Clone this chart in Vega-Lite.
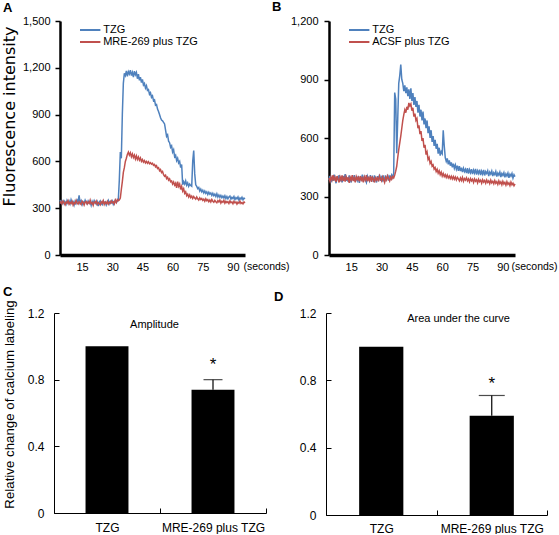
{
"$schema":"https://vega.github.io/schema/vega-lite/v6.json",
"background":"white",
"padding":{"left":0,"top":1,"right":0,"bottom":0},
"config":{
 "font":"Liberation Sans",
 "view":{"stroke":null},
 "axis":{"grid":false,"domainColor":"#000","tickColor":"#000","labelColor":"#000","titleColor":"#000","labelFont":"Liberation Sans","titleFont":"Liberation Sans","titleFontWeight":"normal","labelOverlap":false,"labelFlush":false},
 "title":{"font":"Liberation Sans","fontSize":13,"fontWeight":"bold","anchor":"start","color":"#000","baseline":"alphabetic","frame":"group"},
 "legend":{"title":null,"symbolType":"M-1.7,0H1.7","symbolSize":144,"symbolStrokeWidth":2,"labelFont":"Liberation Sans","labelFontSize":11,"labelColor":"#000","labelOffset":6,"rowPadding":0,"padding":0}
},
"resolve":{"scale":{"color":"independent"},"legend":{"color":"independent"}},
"datasets":{
"ta":[
{"t":4,"a":352,"b":330},{"t":4.5,"a":335,"b":342},{"t":5,"a":344,"b":328},{"t":5.5,"a":330,"b":345},{"t":6,"a":348,"b":335},{"t":6.5,"a":338,"b":322},{"t":7,"a":325,"b":340},{"t":7.5,"a":350,"b":333},{"t":8,"a":333,"b":348},{"t":8.5,"a":346,"b":326},{"t":9,"a":328,"b":338},{"t":9.5,"a":355,"b":330},{"t":10,"a":336,"b":344},{"t":10.5,"a":342,"b":321},{"t":11,"a":320,"b":336},{"t":11.5,"a":345,"b":329},{"t":12,"a":331,"b":350},{"t":12.5,"a":352,"b":334},{"t":13,"a":339,"b":326},{"t":13.5,"a":382,"b":341},{"t":14,"a":334,"b":332},{"t":14.5,"a":348,"b":324},{"t":15,"a":322,"b":345},{"t":15.5,"a":340,"b":337},{"t":16,"a":330,"b":320},{"t":16.5,"a":351,"b":338},{"t":17,"a":336,"b":343},{"t":17.5,"a":327,"b":327},{"t":18,"a":346,"b":340},{"t":18.5,"a":333,"b":331},{"t":19,"a":341,"b":352},{"t":19.5,"a":318,"b":329},{"t":20,"a":344,"b":336},{"t":20.5,"a":329,"b":318},{"t":21,"a":349,"b":339},{"t":21.5,"a":335,"b":334},{"t":22,"a":326,"b":346},{"t":22.5,"a":342,"b":325},{"t":23,"a":313,"b":337},{"t":23.5,"a":338,"b":330},{"t":24,"a":347,"b":321},{"t":24.5,"a":331,"b":341},{"t":25,"a":323,"b":333},{"t":25.5,"a":345,"b":349},{"t":26,"a":332,"b":324},{"t":26.5,"a":340,"b":338},{"t":27,"a":320,"b":330},{"t":27.5,"a":337,"b":343},{"t":28,"a":350,"b":326},{"t":28.5,"a":328,"b":339},{"t":29,"a":343,"b":331},{"t":29.5,"a":334,"b":347},{"t":30,"a":346,"b":335},{"t":30.5,"a":325,"b":341},{"t":31,"a":339,"b":328},{"t":31.5,"a":351,"b":352},{"t":32,"a":336,"b":337},{"t":32.5,"a":344,"b":356},{"t":33,"a":355,"b":348},
{"t":33.5,"a":480,"b":352},{"t":34,"a":660,"b":365},{"t":34.5,"a":620,"b":420},{"t":35,"a":900,"b":470},{"t":35.5,"a":1100,"b":530},{"t":36,"a":1165,"b":560},{"t":36.5,"a":1150,"b":600},{"t":37,"a":1180,"b":620},{"t":37.5,"a":1145,"b":645},{"t":38,"a":1175,"b":660},{"t":38.5,"a":1160,"b":640},{"t":39,"a":1185,"b":655},{"t":39.5,"a":1150,"b":630},{"t":40,"a":1170,"b":648},{"t":40.5,"a":1140,"b":625},{"t":41,"a":1178,"b":640},{"t":41.5,"a":1155,"b":615},{"t":42,"a":1170,"b":635},{"t":42.5,"a":1130,"b":612},{"t":43,"a":1160,"b":628},{"t":43.5,"a":1120,"b":608},{"t":44,"a":1140,"b":622},{"t":44.5,"a":1105,"b":600},{"t":45,"a":1125,"b":612},{"t":45.5,"a":1090,"b":595},{"t":46,"a":1100,"b":605},{"t":46.5,"a":1070,"b":590},{"t":47,"a":1085,"b":600},{"t":47.5,"a":1055,"b":588},{"t":48,"a":1060,"b":598},{"t":48.5,"a":1030,"b":585},{"t":49,"a":1040,"b":592},{"t":49.5,"a":1010,"b":582},{"t":50,"a":1020,"b":588},{"t":50.5,"a":990,"b":575},{"t":51,"a":995,"b":580},{"t":51.5,"a":960,"b":565},{"t":52,"a":965,"b":572},{"t":52.5,"a":935,"b":555},{"t":53,"a":920,"b":560},{"t":53.5,"a":900,"b":540},{"t":54,"a":880,"b":548},{"t":54.5,"a":865,"b":528},{"t":55,"a":860,"b":535},{"t":55.5,"a":850,"b":515},{"t":56,"a":840,"b":505},{"t":56.5,"a":800,"b":512},{"t":57,"a":760,"b":490},{"t":57.5,"a":770,"b":498},{"t":58,"a":730,"b":480},{"t":58.5,"a":720,"b":488},{"t":59,"a":690,"b":470},{"t":59.5,"a":700,"b":475},{"t":60,"a":660,"b":455},{"t":60.5,"a":675,"b":468},{"t":61,"a":630,"b":448},{"t":61.5,"a":640,"b":460},{"t":62,"a":605,"b":430},{"t":62.5,"a":620,"b":470},{"t":63,"a":590,"b":440},{"t":63.5,"a":600,"b":455},{"t":64,"a":560,"b":420},{"t":64.5,"a":580,"b":440},{"t":65,"a":450,"b":410},{"t":65.5,"a":470,"b":425},{"t":66,"a":455,"b":395},{"t":66.5,"a":475,"b":405},{"t":67,"a":448,"b":380},{"t":67.5,"a":462,"b":390},{"t":68,"a":440,"b":372},{"t":68.5,"a":455,"b":385},{"t":69,"a":445,"b":368},{"t":69.5,"a":440,"b":378},{"t":70,"a":600,"b":362},{"t":70.5,"a":670,"b":375},{"t":71,"a":520,"b":365},{"t":71.5,"a":450,"b":358},{"t":72,"a":440,"b":372},{"t":72.5,"a":425,"b":360},{"t":73,"a":432,"b":352},{"t":73.5,"a":410,"b":366},{"t":74,"a":422,"b":355},{"t":74.5,"a":405,"b":362},{"t":75,"a":415,"b":350},{"t":75.5,"a":398,"b":358},{"t":76,"a":410,"b":345},{"t":76.5,"a":395,"b":360},{"t":77,"a":405,"b":348},{"t":77.5,"a":388,"b":355},{"t":78,"a":402,"b":342},{"t":78.5,"a":390,"b":352},{"t":79,"a":398,"b":340},{"t":79.5,"a":382,"b":356},{"t":80,"a":395,"b":345},{"t":80.5,"a":380,"b":338},{"t":81,"a":390,"b":350},{"t":81.5,"a":375,"b":342},{"t":82,"a":392,"b":335},{"t":82.5,"a":372,"b":348},{"t":83,"a":385,"b":340},{"t":83.5,"a":370,"b":352},{"t":84,"a":382,"b":333},{"t":84.5,"a":368,"b":345},{"t":85,"a":378,"b":338},{"t":85.5,"a":365,"b":350},{"t":86,"a":380,"b":332},{"t":86.5,"a":362,"b":344},{"t":87,"a":375,"b":336},{"t":87.5,"a":360,"b":342},{"t":88,"a":372,"b":330},{"t":88.5,"a":378,"b":346},{"t":89,"a":358,"b":335},{"t":89.5,"a":370,"b":340},{"t":90,"a":362,"b":328},{"t":90.5,"a":375,"b":344},{"t":91,"a":355,"b":334},{"t":91.5,"a":368,"b":340},{"t":92,"a":360,"b":326},{"t":92.5,"a":372,"b":338},{"t":93,"a":352,"b":332},{"t":93.5,"a":366,"b":345},{"t":94,"a":358,"b":330},{"t":94.5,"a":370,"b":336},{"t":95,"a":354,"b":328},{"t":95.5,"a":365,"b":340},{"t":96,"a":360,"b":334}
],
"tb":[
{"t":4,"a":385,"b":395},{"t":4.5,"a":405,"b":378},{"t":5,"a":372,"b":400},{"t":5.5,"a":398,"b":385},{"t":6,"a":380,"b":410},{"t":6.5,"a":412,"b":382},{"t":7,"a":390,"b":398},{"t":7.5,"a":368,"b":375},{"t":8,"a":402,"b":405},{"t":8.5,"a":385,"b":388},{"t":9,"a":410,"b":372},{"t":9.5,"a":378,"b":400},{"t":10,"a":395,"b":385},{"t":10.5,"a":372,"b":408},{"t":11,"a":405,"b":380},{"t":11.5,"a":388,"b":396},{"t":12,"a":415,"b":376},{"t":12.5,"a":380,"b":402},{"t":13,"a":398,"b":388},{"t":13.5,"a":375,"b":395},{"t":14,"a":408,"b":370},{"t":14.5,"a":390,"b":398},{"t":15,"a":372,"b":385},{"t":15.5,"a":402,"b":410},{"t":16,"a":385,"b":380},{"t":16.5,"a":410,"b":395},{"t":17,"a":378,"b":372},{"t":17.5,"a":396,"b":402},{"t":18,"a":382,"b":388},{"t":18.5,"a":405,"b":398},{"t":19,"a":370,"b":378},{"t":19.5,"a":395,"b":405},{"t":20,"a":388,"b":384},{"t":20.5,"a":412,"b":395},{"t":21,"a":376,"b":372},{"t":21.5,"a":400,"b":400},{"t":22,"a":385,"b":386},{"t":22.5,"a":372,"b":410},{"t":23,"a":405,"b":378},{"t":23.5,"a":392,"b":395},{"t":24,"a":380,"b":382},{"t":24.5,"a":410,"b":405},{"t":25,"a":386,"b":375},{"t":25.5,"a":398,"b":398},{"t":26,"a":375,"b":388},{"t":26.5,"a":408,"b":372},{"t":27,"a":390,"b":402},{"t":27.5,"a":372,"b":385},{"t":28,"a":404,"b":395},{"t":28.5,"a":388,"b":378},{"t":29,"a":412,"b":405},{"t":29.5,"a":380,"b":390},{"t":30,"a":398,"b":380},{"t":30.5,"a":384,"b":400},{"t":31,"a":408,"b":386},{"t":31.5,"a":375,"b":372},{"t":32,"a":400,"b":398},{"t":32.5,"a":390,"b":385},{"t":33,"a":412,"b":405},{"t":33.5,"a":382,"b":392},{"t":34,"a":402,"b":380},{"t":34.5,"a":392,"b":400},{"t":35,"a":410,"b":388},{"t":35.5,"a":398,"b":402},{"t":36,"a":420,"b":395},
{"t":36.5,"a":833,"b":410},{"t":37,"a":800,"b":430},{"t":37.5,"a":522,"b":455},{"t":38,"a":700,"b":500},{"t":38.5,"a":880,"b":540},{"t":39,"a":920,"b":575},{"t":39.5,"a":977,"b":610},{"t":40,"a":900,"b":650},{"t":40.5,"a":880,"b":690},{"t":41,"a":840,"b":720},{"t":41.5,"a":870,"b":745},{"t":42,"a":830,"b":730},{"t":42.5,"a":860,"b":760},{"t":43,"a":815,"b":745},{"t":43.5,"a":850,"b":780},{"t":44,"a":800,"b":765},{"t":44.5,"a":855,"b":775},{"t":45,"a":790,"b":740},{"t":45.5,"a":830,"b":755},{"t":46,"a":770,"b":710},{"t":46.5,"a":810,"b":725},{"t":47,"a":760,"b":690},{"t":47.5,"a":790,"b":700},{"t":48,"a":730,"b":650},{"t":48.5,"a":770,"b":665},{"t":49,"a":710,"b":620},{"t":49.5,"a":745,"b":635},{"t":50,"a":690,"b":585},{"t":50.5,"a":735,"b":600},{"t":51,"a":670,"b":550},{"t":51.5,"a":700,"b":565},{"t":52,"a":650,"b":515},{"t":52.5,"a":690,"b":528},{"t":53,"a":625,"b":490},{"t":53.5,"a":660,"b":500},{"t":54,"a":600,"b":470},{"t":54.5,"a":640,"b":480},{"t":55,"a":580,"b":455},{"t":55.5,"a":610,"b":462},{"t":56,"a":560,"b":440},{"t":56.5,"a":590,"b":448},{"t":57,"a":545,"b":428},{"t":57.5,"a":570,"b":440},{"t":58,"a":520,"b":420},{"t":58.5,"a":550,"b":432},{"t":59,"a":510,"b":412},{"t":59.5,"a":530,"b":425},{"t":60,"a":520,"b":405},{"t":60.5,"a":640,"b":418},{"t":61,"a":560,"b":402},{"t":61.5,"a":500,"b":412},{"t":62,"a":480,"b":398},{"t":62.5,"a":495,"b":410},{"t":63,"a":465,"b":395},{"t":63.5,"a":485,"b":405},{"t":64,"a":458,"b":392},{"t":64.5,"a":475,"b":404},{"t":65,"a":450,"b":390},{"t":65.5,"a":468,"b":402},{"t":66,"a":445,"b":388},{"t":66.5,"a":462,"b":400},{"t":67,"a":440,"b":385},{"t":67.5,"a":458,"b":398},{"t":68,"a":432,"b":390},{"t":68.5,"a":455,"b":380},{"t":69,"a":430,"b":395},{"t":69.5,"a":448,"b":382},{"t":70,"a":425,"b":398},{"t":70.5,"a":445,"b":378},{"t":71,"a":428,"b":392},{"t":71.5,"a":440,"b":384},{"t":72,"a":420,"b":396},{"t":72.5,"a":445,"b":380},{"t":73,"a":418,"b":390},{"t":73.5,"a":438,"b":375},{"t":74,"a":422,"b":392},{"t":74.5,"a":440,"b":380},{"t":75,"a":415,"b":388},{"t":75.5,"a":435,"b":372},{"t":76,"a":420,"b":390},{"t":76.5,"a":442,"b":378},{"t":77,"a":412,"b":386},{"t":77.5,"a":432,"b":370},{"t":78,"a":418,"b":388},{"t":78.5,"a":438,"b":376},{"t":79,"a":410,"b":384},{"t":79.5,"a":430,"b":368},{"t":80,"a":415,"b":386},{"t":80.5,"a":436,"b":374},{"t":81,"a":408,"b":382},{"t":81.5,"a":428,"b":368},{"t":82,"a":418,"b":385},{"t":82.5,"a":432,"b":372},{"t":83,"a":405,"b":380},{"t":83.5,"a":425,"b":366},{"t":84,"a":415,"b":384},{"t":84.5,"a":430,"b":370},{"t":85,"a":405,"b":378},{"t":85.5,"a":422,"b":365},{"t":86,"a":412,"b":382},{"t":86.5,"a":428,"b":368},{"t":87,"a":402,"b":376},{"t":87.5,"a":420,"b":362},{"t":88,"a":410,"b":380},{"t":88.5,"a":425,"b":366},{"t":89,"a":400,"b":375},{"t":89.5,"a":418,"b":360},{"t":90,"a":408,"b":378},{"t":90.5,"a":422,"b":364},{"t":91,"a":398,"b":372},{"t":91.5,"a":416,"b":358},{"t":92,"a":405,"b":376},{"t":92.5,"a":420,"b":362},{"t":93,"a":396,"b":370},{"t":93.5,"a":414,"b":356},{"t":94,"a":404,"b":374},{"t":94.5,"a":418,"b":360},{"t":95,"a":395,"b":368},{"t":95.5,"a":412,"b":355},{"t":96,"a":402,"b":365}
],
"bc":[{"g":"TZG","v":1.0},{"g":"MRE-269 plus TZG","v":0.74,"hi":0.80,"star":0.86}],
"bd":[{"g":"TZG","v":1.0},{"g":"MRE-269 plus TZG","v":0.59,"hi":0.71,"star":0.75}]
},
"spacing":13,
"vconcat":[
{"spacing":-18,
 "resolve":{"scale":{"color":"independent"},"legend":{"color":"independent"}},
 "hconcat":[
 {"title":{"text":"A","dx":-51,"offset":0},
  "width":191,"height":234,
  "data":{"name":"ta"},
  "transform":[{"fold":["a","b"],"as":["s","v"]}],
  "mark":{"type":"line","strokeWidth":1.5},
  "encoding":{
   "x":{"field":"t","type":"quantitative","scale":{"domain":[4,96],"range":[6,191],"nice":false,"zero":false},
    "axis":{"values":[15,30,45,60,75,90],"ticks":false,"domainWidth":3.5,"labelPadding":6,"labelFontSize":11,"title":"(seconds)","titleFontSize":10.5,"titleX":189,"titleY":6,"titleAlign":"left","titleBaseline":"top"}},
   "y":{"field":"v","type":"quantitative","scale":{"domain":[0,1500],"nice":false},
    "axis":{"offset":-6,"values":[0,300,600,900,1200,1500],"format":",d","domainWidth":2.5,"tickSize":5,"tickWidth":1.5,"labelPadding":5,"labelFontSize":11,"title":"Fluorescence intensity","titleFont":"DejaVu Sans","titleFontSize":16,"titleX":-51,"titleY":95,"titleBaseline":"middle","titleAlign":"center","titleAngle":-90}},
   "color":{"field":"s","type":"nominal","scale":{"domain":["a","b"],"range":["#4F81BD","#C0504D"]},
    "legend":{"orient":"none","legendX":29.2,"legendY":2,"labelExpr":"datum.label == 'a' ? 'TZG' : 'MRE-269 plus TZG'"}}
  }},
 {"title":{"text":"B","dx":-57,"offset":1},
  "width":186,"height":234,
  "data":{"name":"tb"},
  "transform":[{"fold":["a","b"],"as":["s","v"]}],
  "mark":{"type":"line","strokeWidth":1.5},
  "encoding":{
   "x":{"field":"t","type":"quantitative","scale":{"domain":[4,96],"nice":false,"zero":false},
    "axis":{"values":[15,30,45,60,75,90],"ticks":false,"domainWidth":3.5,"labelPadding":6,"labelFontSize":11,"title":"(seconds)","titleFontSize":10.5,"titleX":182,"titleY":6,"titleAlign":"left","titleBaseline":"top"}},
   "y":{"field":"v","type":"quantitative","scale":{"domain":[0,1200],"nice":false},
    "axis":{"values":[0,300,600,900,1200],"format":",d","domainWidth":2.5,"tickSize":5,"tickWidth":1.5,"labelPadding":6,"labelFontSize":11,"title":null}},
   "color":{"field":"s","type":"nominal","scale":{"domain":["a","b"],"range":["#4F81BD","#C0504D"]},
    "legend":{"orient":"none","legendX":23.2,"legendY":2,"labelExpr":"datum.label == 'a' ? 'TZG' : 'ACSF plus TZG'"}}
  }}
]},
{"spacing":7,"hconcat":[
 {"title":{"text":"C","dx":-51,"offset":1},
  "width":212,"height":200,
  "data":{"name":"bc"},
  "layer":[
   {"mark":{"type":"bar","color":"#000","width":{"band":0.405}},
    "encoding":{
     "x":{"field":"g","type":"nominal","sort":null,"scale":{"paddingInner":0,"paddingOuter":0},
      "axis":{"title":null,"labelAngle":0,"labelFont":"Liberation Sans Narrow, Liberation Sans","labelFontSize":12,"tickBand":"extent","tickSize":-5,"labelPadding":14,"domainWidth":1,"tickWidth":1}},
     "y":{"field":"v","type":"quantitative","scale":{"domain":[0,1.2],"nice":false},
      "axis":{"values":[0,0.4,0.8,1.2],"format":"~g","tickSize":-5,"labelPadding":15,"labelFont":"Liberation Sans Narrow, Liberation Sans","labelFontSize":12,"domainWidth":1,"tickWidth":1,"title":"Relative change of calcium labeling","titleFontSize":13.3,"titleX":-45,"titleY":91,"titleBaseline":"middle","titleAlign":"center","titleAngle":-90}}}},
   {"mark":{"type":"rule","color":"#000","strokeWidth":1.2},
    "encoding":{"x":{"field":"g","type":"nominal","sort":null,"axis":null},"y":{"field":"hi","type":"quantitative"},"y2":{"field":"v"}}},
   {"mark":{"type":"tick","color":"#000","thickness":1.2,"size":19},
    "encoding":{"x":{"field":"g","type":"nominal","sort":null,"axis":null},"y":{"field":"hi","type":"quantitative"}}},
   {"mark":{"type":"text","text":"*","fontSize":17,"baseline":"alphabetic"},
    "encoding":{"x":{"field":"g","type":"nominal","sort":null,"axis":{"orient":"top","title":"Amplitude","labels":false,"ticks":false,"domain":false,"titleFontSize":11,"titleX":100,"titleY":11,"titleBaseline":"middle","titleAlign":"center"}},"y":{"field":"star","type":"quantitative"}}}
  ],
  "resolve":{"axis":{"x":"independent"}}},
 {"title":{"text":"D","dx":-52,"offset":3},
  "width":221,"height":202,
  "data":{"name":"bd"},
  "layer":[
   {"mark":{"type":"bar","color":"#000","width":{"band":0.4}},
    "encoding":{
     "x":{"field":"g","type":"nominal","sort":null,"scale":{"paddingInner":0,"paddingOuter":0},
      "axis":{"title":null,"labelAngle":0,"labelFont":"Liberation Sans Narrow, Liberation Sans","labelFontSize":12,"tickBand":"extent","tickSize":-5,"labelPadding":13,"domainWidth":1,"tickWidth":1}},
     "y":{"field":"v","type":"quantitative","scale":{"domain":[0,1.2],"nice":false},
      "axis":{"values":[0,0.4,0.8,1.2],"format":"~g","tickSize":-5,"labelPadding":15,"labelFont":"Liberation Sans Narrow, Liberation Sans","labelFontSize":12,"domainWidth":1,"tickWidth":1,"title":null}}}},
   {"mark":{"type":"rule","color":"#000","strokeWidth":1.2},
    "encoding":{"x":{"field":"g","type":"nominal","sort":null,"axis":null},"y":{"field":"hi","type":"quantitative"},"y2":{"field":"v"}}},
   {"mark":{"type":"tick","color":"#000","thickness":1.2,"size":26},
    "encoding":{"x":{"field":"g","type":"nominal","sort":null,"axis":null},"y":{"field":"hi","type":"quantitative"}}},
   {"mark":{"type":"text","text":"*","fontSize":17,"baseline":"alphabetic"},
    "encoding":{"x":{"field":"g","type":"nominal","sort":null,"axis":{"orient":"top","title":"Area under the curve","labels":false,"ticks":false,"domain":false,"titleFontSize":11,"titleX":132,"titleY":5,"titleBaseline":"middle","titleAlign":"center"}},"y":{"field":"star","type":"quantitative"}}}
  ],
  "resolve":{"axis":{"x":"independent"}}}
]}
]
}
